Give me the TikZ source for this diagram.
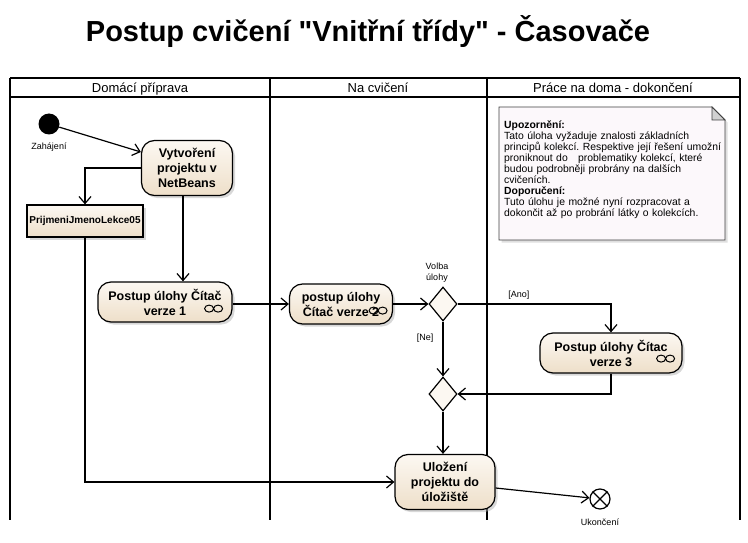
\documentclass[tikz,border=0pt]{standalone}
\usepackage{fontspec}
\setmainfont{Liberation Sans}
\newfontfamily\titlefont{Liberation Sans}
\usepackage{tikz}
\usetikzlibrary{shapes.geometric,arrows.meta,shadows,positioning}
\definecolor{actlight}{HTML}{FCF8F2}
\definecolor{actdark}{HTML}{EEDFC9}
\definecolor{notefill}{HTML}{FCF8FB}
\tikzset{
  rake/.pic={\draw[line width=1pt] (-4.5,0) ellipse (4.5 and 3.5) (4.5,0) ellipse (4.5 and 3.5);}
}
\frenchspacing

\begin{document}
\begin{tikzpicture}[x=1pt,y=-1pt,
  lane/.style={line width=1.5pt},
  act/.style={draw,line width=1.2pt,rounded corners=13pt,top color=actlight,bottom color=actdark,
    drop shadow={shadow xshift=2.5pt,shadow yshift=-2.5pt,fill=black!30},align=center,
    font=\fontsize{12.5}{15}\selectfont\bfseries,inner sep=1pt},
  objbox/.style={draw,line width=1.2pt,top color=actlight,bottom color=actdark,
    drop shadow={shadow xshift=2.5pt,shadow yshift=-2.5pt,fill=black!30},
    font=\fontsize{10}{12}\selectfont\bfseries,inner sep=1pt},
  decide/.style={diamond,draw,line width=1.2pt,fill=actlight,minimum width=28pt,minimum height=34pt,inner sep=0pt},
  flow/.style={line width=1.2pt,-{Straight Barb[length=7pt,width=12pt]}},
  lbl/.style={font=\fontsize{9}{11}\selectfont,inner sep=1pt,align=center},
  head/.style={font=\fontsize{13}{14}\selectfont,anchor=base}]
\useasboundingbox (0,0) rectangle (748,543);
\node[font=\titlefont\fontsize{29}{32}\selectfont\bfseries] (title) at (368,32) {Postup cvičení "Vnitřní třídy" - Časovače};
\draw[lane] (10,78) -- (740,78);
\draw[lane] (10,97) -- (740,97);
\draw[lane] (10,78) -- (10,520);
\draw[lane] (270,78) -- (270,520);
\draw[lane] (487,78) -- (487,520);
\draw[lane] (740,78) -- (740,520);
\node[head] (lanehome) at (140,93) {Domácí příprava};
\node[head] (laneclass) at (378,93) {Na cvičení};
\node[head] (lanefinish) at (613,93) {Práce na doma - dokončení};
\filldraw[line width=0.8pt,draw=black!75,fill=notefill,drop shadow={shadow xshift=2.5pt,shadow yshift=-2.5pt,fill=black!25}]
  (499,107) -- (712,107) -- (725,120) -- (725,240) -- (499,240) -- cycle;
\filldraw[line width=0.8pt,draw=black!75,fill=black!18] (712,107) -- (712,120) -- (725,120) -- cycle;
\node[anchor=north west,inner sep=0pt,text width=222pt,align=left,font=\fontsize{10.4}{11}\selectfont] (remark) at (504,121)
  {\textbf{Upozornění:}\\
   Tato úloha vyžaduje znalosti základních\\
   principů kolekcí. Respektive její řešení umožní\\
   proniknout do \ \ problematiky kolekcí, které\\
   budou podrobněji probrány na dalších\\
   cvičeních.\\
   \textbf{Doporučení:}\\
   Tuto úlohu je možné nyní rozpracovat a\\
   dokončit až po probrání látky o kolekcích.};
\node[circle,fill=black,minimum size=21pt,inner sep=0pt] (start) at (49,124) {};
\node[lbl] (startlbl) at (49,147) {Zahájení};
\node[act,minimum width=91pt,minimum height=55pt] (create) at (187,168) {Vytvoření\\projektu v\\NetBeans};
\node[objbox,minimum width=116pt,minimum height=32pt] (proj) at (85,221) {PrijmeniJmenoLekce05};
\node[act,minimum width=134pt,minimum height=40pt] (step1) at (165,302) {Postup úlohy Čítač\\verze 1};
\pic at ([xshift=-19pt,yshift=14pt]step1.south east) {rake};
\node[act,minimum width=103pt,minimum height=40pt] (step2) at (341,304) {postup úlohy\\Čítač verze 2};
\pic at ([xshift=-15pt,yshift=14pt]step2.south east) {rake};
\node[decide] (choice) at (443,304) {};
\node[lbl] (choicelbl) at (437,273) {Volba\\úlohy};
\node[act,minimum width=142pt,minimum height=40pt] (step3) at (611,353) {Postup úlohy Čítac\\verze 3};
\pic at ([xshift=-17pt,yshift=15pt]step3.south east) {rake};
\node[decide] (merge) at (443,394) {};
\node[act,minimum width=100pt,minimum height=55pt] (save) at (445,482) {Uložení\\projektu do\\úložiště};
\node[circle,draw,line width=1.2pt,fill=white,minimum size=20pt,inner sep=0pt] (end) at (600,499) {};
\draw[line width=1.2pt] (end.north west) -- (end.south east) (end.north east) -- (end.south west);
\node[lbl] (endlbl) at (600,522) {Ukončení};
\draw[flow] (start) -- ([yshift=16pt]create.west);
\draw[flow] (create.west) -| (proj.north);
\draw[flow] ([xshift=-4pt]create.south) -- ([xshift=-4pt]create.south |- step1.north);
\draw[flow] (step1.east |- step2.west) -- (step2.west);
\draw[flow] (step2.east) -- (choice.west);
\draw[flow] (choice.east) -| (step3.north) node[lbl,pos=0.2,above=3pt] (yes) {[Ano]};
\draw[flow] (choice.south) -- (merge.north) node[lbl,pos=0.3,left=8pt] (no) {[Ne]};
\draw[flow] (step3.south) |- (merge.east);
\draw[flow] (merge.south) -- (merge.south |- save.north);
\draw[flow] (proj.south) |- (save.west);
\draw[flow] ([yshift=-6pt]save.east) -- (end);
\end{tikzpicture}
\end{document}
